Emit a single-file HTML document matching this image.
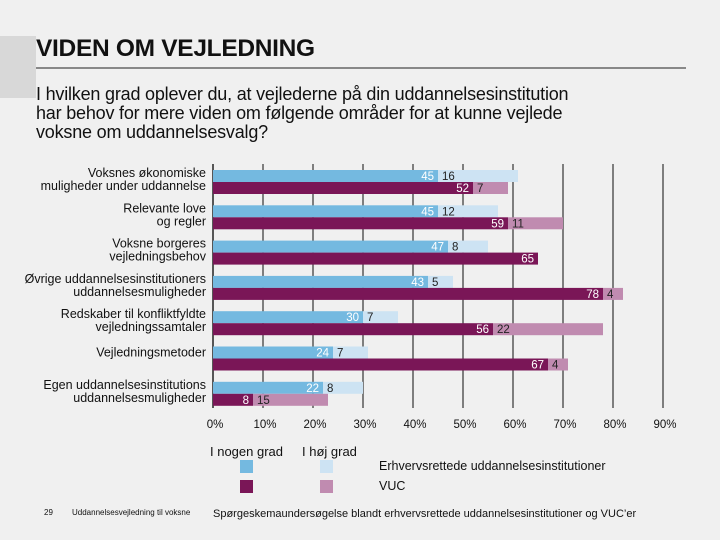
<!DOCTYPE html>
<html><head><meta charset="utf-8">
<style>
html,body{margin:0;padding:0;background:#f0f0f0;}
body{width:720px;height:540px;position:relative;overflow:hidden;font-family:"Liberation Sans","DejaVu Sans",sans-serif;color:#111;}
.abs{position:absolute;white-space:nowrap;}
</style></head><body>
<div class="abs" style="left:0;top:36px;width:36px;height:62px;background:#d8d8d8"></div>
<div class="abs" style="left:36px;top:35px;font-size:24.5px;font-weight:bold;letter-spacing:-0.3px">VIDEN OM VEJLEDNING</div>
<div class="abs" style="left:36px;top:67px;width:650px;height:2px;background:#888"></div>
<div class="abs" style="left:36px;top:85px;font-size:18px;line-height:19px;letter-spacing:-0.2px">I hvilken grad oplever du, at vejlederne på din uddannelsesinstitution<br>har behov for mere viden om følgende områder for at kunne vejlede<br>voksne om uddannelsesvalg?</div>
<svg class="abs" style="left:0;top:0" width="720" height="540" id="chart"></svg>
<div class="abs" style="left:210px;top:444px;font-size:13px">I nogen grad</div>
<div class="abs" style="left:302px;top:444px;font-size:13px">I høj grad</div>
<div class="abs" style="left:240px;top:460px;width:13px;height:13px;background:#74b9e0"></div>
<div class="abs" style="left:320px;top:460px;width:13px;height:13px;background:#cde3f3"></div>
<div class="abs" style="left:240px;top:480px;width:13px;height:13px;background:#7a1657"></div>
<div class="abs" style="left:320px;top:480px;width:13px;height:13px;background:#c08bb0"></div>
<div class="abs" style="left:379px;top:459px;font-size:12.5px">Erhvervsrettede uddannelsesinstitutioner</div>
<div class="abs" style="left:379px;top:479px;font-size:12.5px">VUC</div>
<div class="abs" style="left:44px;top:508px;font-size:8px">29</div>
<div class="abs" style="left:72px;top:508px;font-size:8px">Uddannelsesvejledning til voksne</div>
<div class="abs" style="left:213px;top:508px;font-size:11px">Spørgeskemaundersøgelse blandt erhvervsrettede uddannelsesinstitutioner og VUC’er</div>
<script>
const categories=[["Voksnes økonomiske","muligheder under uddannelse"],["Relevante love","og regler"],["Voksne borgeres","vejledningsbehov"],["Øvrige uddannelsesinstitutioners","uddannelsesmuligheder"],["Redskaber til konfliktfyldte","vejledningssamtaler"],["Vejledningsmetoder"],["Egen uddannelsesinstitutions","uddannelsesmuligheder"]];
const erhvSome=[45,45,47,43,30,24,22];
const erhvHigh=[16,12,8,5,7,7,8];
const vucSome=[52,59,65,78,56,67,8];
const vucHigh=[7,11,null,4,22,4,15];
const ticks=[0,10,20,30,40,50,60,70,80,90];
const tickLabels=["0%","10%","20%","30%","40%","50%","60%","70%","80%","90%"];
const svg=document.getElementById('chart');
const NS="http://www.w3.org/2000/svg";
const x=v=>213+v*5;
const y0=170,pitch=35.3,bh=12;
function mk(t,a){const e=document.createElementNS(NS,t);for(const k in a)e.setAttribute(k,a[k]);svg.appendChild(e);return e;}
ticks.forEach((t,i)=>{
  const l=mk('line',{x1:x(t),x2:x(t),y1:164,y2:408,stroke:i==0?'#222':'#333','stroke-width':i==0?1.5:1.2});
  
  
  const tx=mk('text',{x:x(t)+2,y:428,'text-anchor':'middle','font-size':11.5,fill:'#111'});
  
  
  tx.textContent=tickLabels[i];
});
const series=[[erhvSome,erhvHigh,'#74b9e0','#cde3f3',0,'erhv'],[vucSome,vucHigh,'#7a1657','#c08bb0',bh,'vuc']];
categories.forEach((c,i)=>{
  const gy=y0+i*pitch;
  series.forEach(s=>{
    const a=s[0][i],b=s[1][i],yy=gy+s[4];
    const r1=mk('rect',{x:x(0),y:yy,width:x(a)-x(0),height:bh,fill:s[2]});
    
    
    const t1=mk('text',{x:x(a)-4,y:yy+10,'text-anchor':'end','font-size':11.5,fill:'#fff'});
    
    
    t1.textContent=a;
    if(b!=null){
      const r2=mk('rect',{x:x(a),y:yy,width:x(a+b)-x(a),height:bh,fill:s[3]});
      
      
      const t2=mk('text',{x:x(a)+4,y:yy+10,'font-size':11.5,fill:'#222'});
      
      
      t2.textContent=b;
    }
  });
  const ly=c.length==1?gy+10:gy+7;
  c.forEach((line,j)=>{
    const t=mk('text',{x:206,y:ly+j*13,'text-anchor':'end','font-size':12.5,fill:'#111'});
    
    
    t.textContent=line;
  });
});
</script>
</body></html>
